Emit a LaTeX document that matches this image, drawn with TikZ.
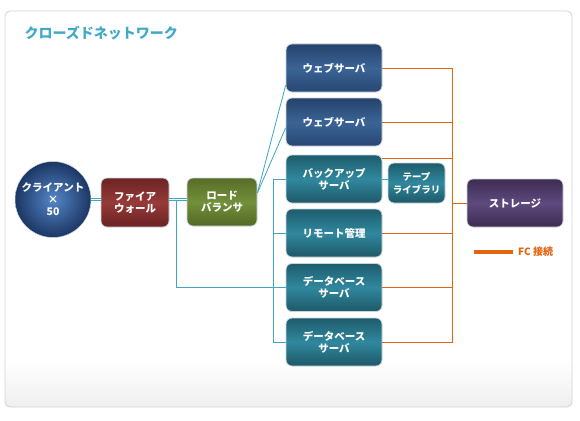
\documentclass[tikz,border=0pt]{standalone}
\usepackage{fontspec}
\setmainfont{Noto Sans CJK JP}

\definecolor{lanteal}{HTML}{3DA8C4}
\definecolor{fcorange}{HTML}{E2640F}
\definecolor{titleblue}{HTML}{41A9C6}
\definecolor{framegray}{HTML}{D2D2D2}
\definecolor{framebot}{HTML}{EEEEEE}
\definecolor{boxedge}{HTML}{C9D5DC}

\tikzset{
    box/.style={draw=boxedge, line width=0.8pt, rounded corners=6pt, inner sep=0pt,
        text=white, align=center, font=\fontsize{10.5}{12}\selectfont\bfseries},
    srvbox/.style={box, minimum width=96pt, minimum height=48pt},
    navy/.style={top color={rgb,255:red,38;green,66;blue,108}, bottom color={rgb,255:red,40;green,70;blue,114}, middle color={rgb,255:red,58;green,100;blue,150}},
    tealbox/.style={top color={rgb,255:red,30;green,92;blue,108}, bottom color={rgb,255:red,30;green,88;blue,104}, middle color={rgb,255:red,48;green,136;blue,158}},
    lan/.style={draw=lanteal, line width=0.8pt},
    lanpair/.style={lan, double=white, double distance=1.4pt, line width=0.7pt},
    fc/.style={draw=fcorange, line width=0.9pt}
}

\begin{document}
\begin{tikzpicture}[x=1pt,y=-1pt]

    \useasboundingbox (0,0) rectangle (580,420);
    \fill[white] (0,0) rectangle (580,420);

    % frame
    \begin{scope}
        \clip[rounded corners=5pt] (5,11) rectangle (572,407);
        \shade[top color=white, bottom color=framebot] (5,362) rectangle (572,407);
    \end{scope}
    \draw[framegray, line width=0.8pt, rounded corners=5pt] (5,11) rectangle (572,407);

    \node[anchor=west, text=titleblue, font=\fontsize{14}{16}\selectfont\bfseries] (title) at (21,33) {クローズドネットワーク};

    \node[circle, draw=boxedge, line width=0.5pt, minimum size=76pt, inner sep=0pt, inner color={rgb,255:red,84;green,134;blue,200}, outer color={rgb,255:red,28;green,54;blue,100},
        text=white, align=center, font=\fontsize{10.5}{12}\selectfont\bfseries] (client) at (53,199.5) {クライアント\\×\\50};

    \node[box, minimum width=68pt, minimum height=49pt, top color={rgb,255:red,108;green,36;blue,36}, bottom color={rgb,255:red,104;green,34;blue,34}, middle color={rgb,255:red,150;green,58;blue,56}] (fw) at (135,202.5) {ファイア\\ウォール};
    \node[box, minimum width=70pt, minimum height=48pt, top color={rgb,255:red,88;green,108;blue,40}, bottom color={rgb,255:red,84;green,104;blue,37}, middle color={rgb,255:red,114;green,144;blue,58}] (lb) at (222,202) {ロード\\バランサ};

    \node[srvbox, navy] (web1) at (334,68) {ウェブサーバ};
    \node[srvbox, navy] (web2) at (334,122) {ウェブサーバ};
    \node[srvbox, tealbox] (backup) at (334,179) {バックアップ\\サーバ};
    \node[srvbox, tealbox] (remote) at (334,233) {リモート管理};
    \node[srvbox, tealbox] (db1) at (334,287.5) {データベース\\サーバ};
    \node[srvbox, tealbox] (db2) at (334,342) {データベース\\サーバ};

    \node[box, tealbox, minimum width=57pt, minimum height=40pt, font=\fontsize{9.5}{13}\selectfont\bfseries] (tape) at (416.5,183) {テープ\\ライブラリ};

    \node[srvbox, top color={rgb,255:red,62;green,44;blue,82}, bottom color={rgb,255:red,61;green,43;blue,80}, middle color={rgb,255:red,94;green,74;blue,126}] (storage) at (515,203) {ストレージ};

    % LAN
    \coordinate (lanbus) at (273,0);
    \draw[lanpair] (client.east) -- (client.east -| fw.west);
    \draw[lanpair] (fw.east |- client.east) -- (lb.west |- client.east);
    \draw[lan] ([xshift=7pt,yshift=-1.2pt]fw.east |- client.east) |- (db1.west);
    \draw[lan] ([yshift=9pt]lb.east) -- ([yshift=7pt]web1.south west);
    \draw[lan] ([yshift=9pt]lb.east) -- ([yshift=-6pt]web2.west);
    \draw[lan] (backup.west) -- (backup.west -| lanbus) -- (db2.west -| lanbus) -- (db2.west);
    \draw[lan] (remote.west) -- (remote.west -| lanbus);
    \draw[lan] (backup.east) -- (backup.east -| tape.west);

    % FC
    \coordinate (fcbus) at (452,0);
    \draw[fc] (web1.east) -- (web1.east -| fcbus) -- (db2.east -| fcbus) -- (db2.east);
    \draw[fc] (web2.east) -- (web2.east -| fcbus);
    \draw[fc] ([yshift=-4pt]backup.north east) -- ([yshift=-4pt]backup.north east -| fcbus);
    \draw[fc] (remote.east) -- (remote.east -| fcbus);
    \draw[fc] (db1.east) -- (db1.east -| fcbus);
    \draw[fc] (storage.west -| fcbus) -- (storage.west);

    \coordinate (leg) at (474,252);
    \node[anchor=west, text=fcorange, inner sep=0pt, font=\fontsize{10}{12}\selectfont\bfseries] (legtext) at (518,252) {FC 接続};
    \draw[fcorange, line width=3.3pt] (leg) -- ++(39,0);

\end{tikzpicture}
\end{document}
